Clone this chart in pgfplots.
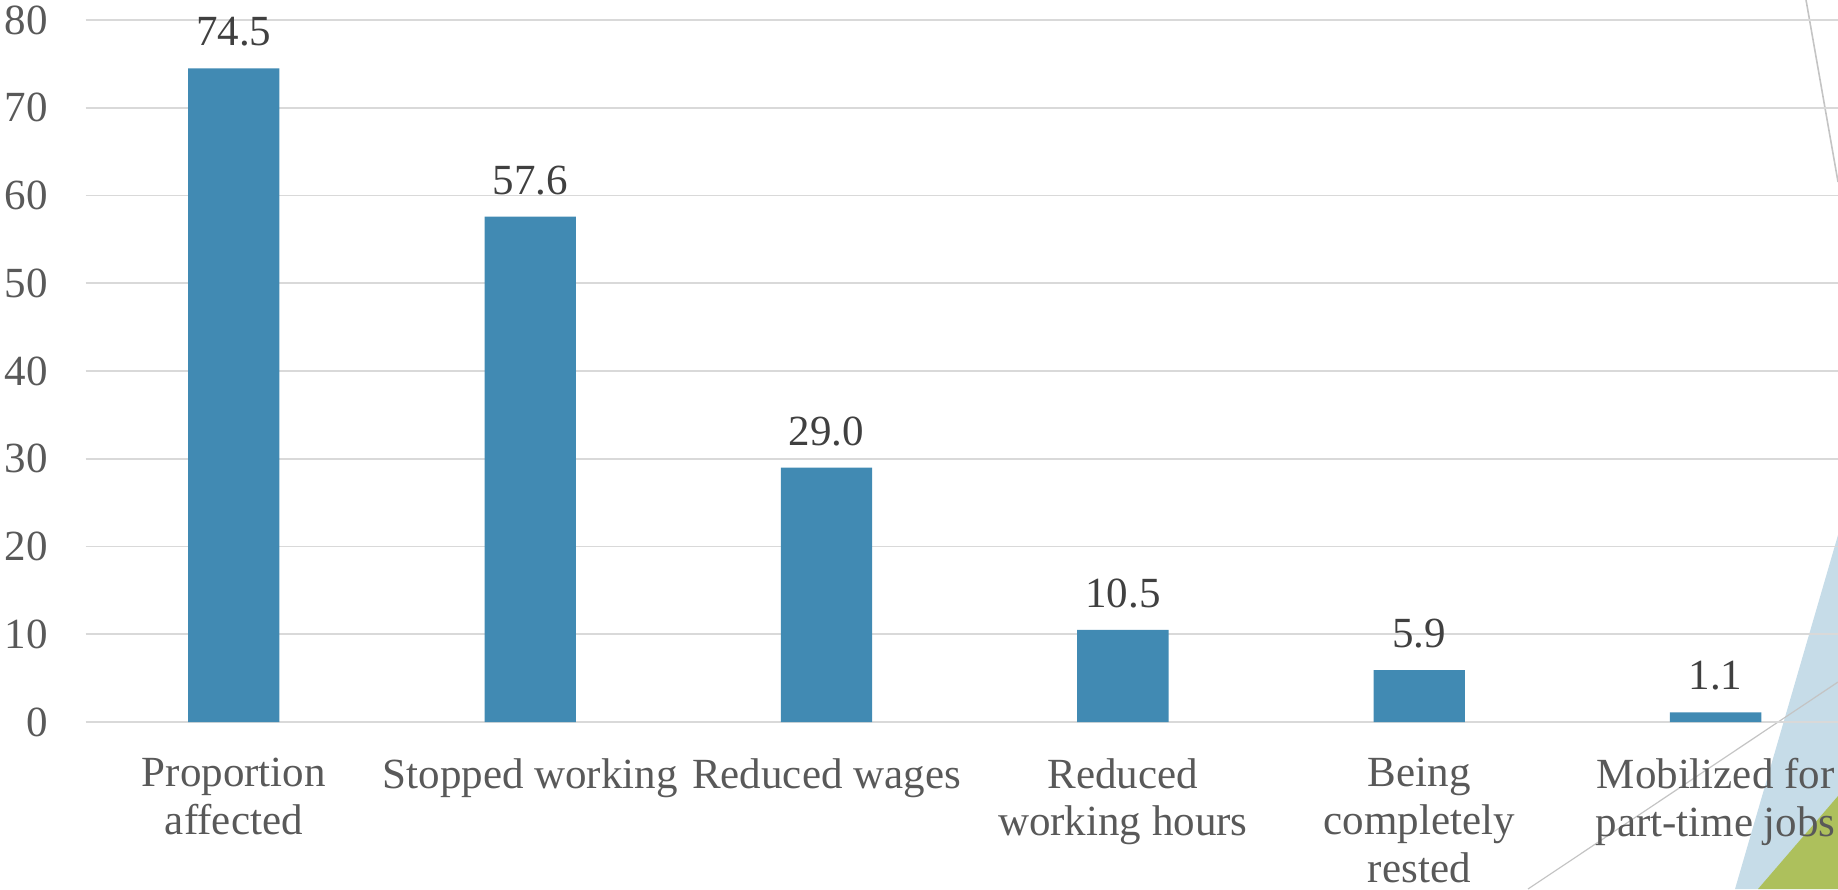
\documentclass[border=0pt]{standalone}
\usepackage{pgfplots}
\pgfplotsset{compat=1.18}
\usepackage{fontspec}
\setmainfont{Liberation Serif}
\definecolor{barblue}{HTML}{418AB3}
\definecolor{gridgray}{HTML}{D9D9D9}
\definecolor{labelgray}{HTML}{595959}
\definecolor{datagray}{HTML}{404040}
\definecolor{decoblue}{HTML}{C6DCE8}
\definecolor{decogreen}{HTML}{ADC05C}
\definecolor{decoline}{HTML}{C4C4C4}
\begin{document}
\begin{tikzpicture}
\useasboundingbox (0,0) rectangle (459.5pt,222.25pt);
\begin{scope}
\clip (0,0) rectangle (459.5pt,222.25pt);
\fill[decoblue] (459.5pt,88.5pt) -- (433.75pt,0pt) -- (459.5pt,0pt) -- cycle;
\fill[decogreen] (459.5pt,23.25pt) -- (439.5pt,0pt) -- (459.5pt,0pt) -- cycle;
\draw[decoline, line width=0.3pt] (382pt,0pt) -- (459.5pt,51.75pt);
\draw[decoline, line width=0.4pt] (451.5pt,222.25pt) -- (459.5pt,176.75pt);
\end{scope}
\begin{axis}[
  at={(21.4pt,41.75pt)}, anchor=south west,
  scale only axis, width=438.1pt, height=175.5pt,
  xmin=-0.5, xmax=5.413, ymin=0, ymax=80,
  ytick={0,10,...,80},
  xtick={0,...,5},
  xticklabels={{Proportion\\affected},{Stopped working},{Reduced wages},{Reduced\\working hours},{Being\\completely\\rested},{Mobilized for\\part-time jobs}},
  axis line style={draw=none},
  major tick length=0pt,
  tick style={draw=none},
  ymajorgrids, grid style={gridgray, line width=0.4pt},
  /pgf/number format/assume math mode=true,
  every tick label/.append style={font=\fontsize{10.75}{11.9}\selectfont, text=labelgray},
  yticklabel style={anchor=east, inner sep=0pt, xshift=-9.3pt},
  xticklabel style={align=center, anchor=north, inner sep=0pt, yshift=-8.9pt},
  ybar, bar width=0.308,
  nodes near coords={\pgfmathprintnumber[fixed,fixed zerofill,precision=1,assume math mode=true]{\pgfplotspointmeta}},
  nodes near coords style={font=\fontsize{10.75}{11.9}\selectfont, text=datagray, anchor=south, inner sep=0pt, yshift=5.25pt},
]
\addplot[fill=barblue, draw=none] coordinates {(0,74.5) (1,57.6) (2,29.0) (3,10.5) (4,5.9) (5,1.1)};
\end{axis}
\end{tikzpicture}
\end{document}
